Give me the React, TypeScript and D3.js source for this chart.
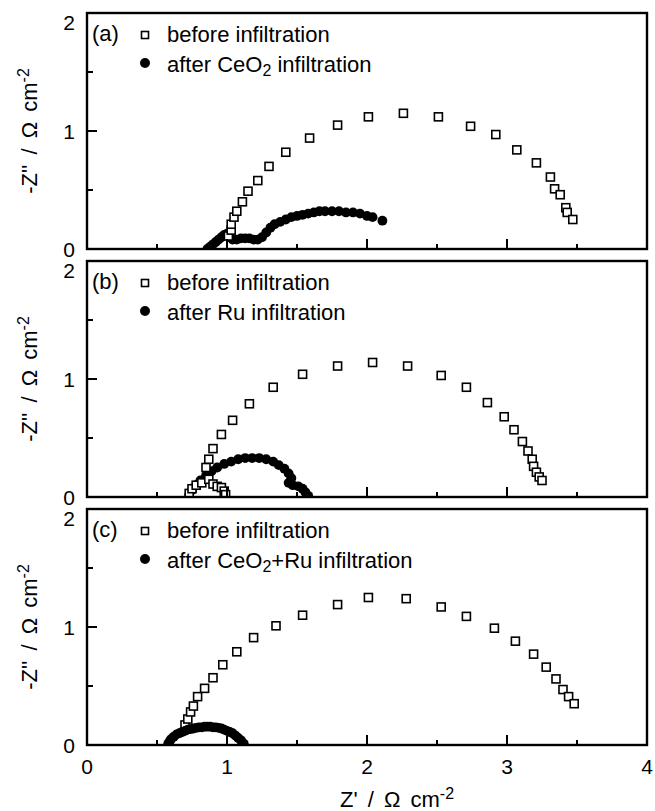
import React, { useEffect, useRef } from "react"
import * as d3 from "d3"

// Nyquist plots, Z' vs -Z'' (ohm cm^2)
const xTickLabels = ["0", "1", "2", "3", "4"]
const yTickLabels = ["0", "1", "2"]
const panelTags = ["(a)", "(b)", "(c)"]
const beforeLabel = "before infiltration"
const afterLabels = [
  ["after CeO", "2", " infiltration"],
  ["after Ru infiltration", "", ""],
  ["after CeO", "2", "+Ru infiltration"]
]

const beforeA = [
  [1.01, 0.11], [1.03, 0.16], [1.03, 0.21], [1.05, 0.27], [1.07, 0.32], [1.11, 0.40], [1.15, 0.49],
  [1.22, 0.58], [1.30, 0.70], [1.42, 0.82], [1.59, 0.94], [1.79, 1.05], [2.01, 1.12], [2.26, 1.15],
  [2.51, 1.12], [2.74, 1.04], [2.92, 0.97], [3.07, 0.84], [3.21, 0.73], [3.31, 0.61], [3.34, 0.51],
  [3.38, 0.46], [3.42, 0.35], [3.43, 0.31], [3.47, 0.25]
]
const afterA = [
  [0.86, 0.00], [0.88, 0.02], [0.90, 0.04], [0.92, 0.06], [0.94, 0.08], [0.96, 0.10], [0.98, 0.12],
  [1.00, 0.13], [1.02, 0.10], [1.04, 0.08], [1.07, 0.08], [1.10, 0.09], [1.13, 0.09], [1.16, 0.09],
  [1.19, 0.08], [1.22, 0.08], [1.25, 0.10], [1.28, 0.14], [1.31, 0.18], [1.34, 0.21], [1.38, 0.23],
  [1.42, 0.25], [1.46, 0.27], [1.50, 0.28], [1.54, 0.29], [1.58, 0.30], [1.62, 0.31], [1.66, 0.32],
  [1.70, 0.32], [1.75, 0.32], [1.80, 0.32], [1.85, 0.31], [1.90, 0.31], [1.95, 0.30], [2.00, 0.28],
  [2.04, 0.27], [2.11, 0.24]
]

const beforeB = [
  [0.73, 0.03], [0.75, 0.07], [0.78, 0.10], [0.82, 0.12], [0.87, 0.15], [0.90, 0.11], [0.93, 0.09],
  [0.96, 0.08], [0.98, 0.05], [0.99, 0.02], [0.85, 0.25], [0.87, 0.32], [0.90, 0.41], [0.96, 0.53],
  [1.04, 0.65], [1.16, 0.79], [1.33, 0.93], [1.54, 1.04], [1.79, 1.11], [2.04, 1.14], [2.29, 1.11],
  [2.53, 1.03], [2.71, 0.93], [2.86, 0.80], [2.98, 0.68], [3.05, 0.57], [3.11, 0.47], [3.15, 0.39],
  [3.18, 0.32], [3.19, 0.26], [3.21, 0.21], [3.23, 0.17], [3.25, 0.14]
]
const afterB = [
  [0.73, 0.02], [0.75, 0.06], [0.78, 0.10], [0.81, 0.14], [0.85, 0.18], [0.89, 0.22], [0.93, 0.25],
  [0.98, 0.28], [1.03, 0.30], [1.08, 0.32], [1.13, 0.33], [1.18, 0.33], [1.23, 0.33], [1.28, 0.32],
  [1.33, 0.30], [1.37, 0.27], [1.41, 0.24], [1.44, 0.20], [1.46, 0.16], [1.44, 0.12], [1.47, 0.10],
  [1.51, 0.09], [1.54, 0.07], [1.56, 0.04], [1.58, 0.01]
]

const beforeC = [
  [0.70, 0.17], [0.72, 0.22], [0.74, 0.28], [0.76, 0.33], [0.79, 0.41], [0.84, 0.48], [0.90, 0.57],
  [0.97, 0.68], [1.07, 0.79], [1.19, 0.91], [1.35, 1.01], [1.54, 1.10], [1.79, 1.19], [2.01, 1.25],
  [2.28, 1.24], [2.53, 1.17], [2.71, 1.09], [2.91, 0.99], [3.06, 0.88], [3.19, 0.77], [3.28, 0.66],
  [3.35, 0.56], [3.40, 0.47], [3.44, 0.41], [3.48, 0.35]
]
const afterC = [
  [0.58, 0.01], [0.59, 0.03], [0.60, 0.05], [0.62, 0.07], [0.64, 0.09], [0.66, 0.10], [0.68, 0.11],
  [0.70, 0.12], [0.72, 0.13], [0.74, 0.135], [0.76, 0.14], [0.78, 0.145], [0.80, 0.15], [0.82, 0.15],
  [0.84, 0.155], [0.86, 0.155], [0.88, 0.155], [0.90, 0.15], [0.92, 0.15], [0.94, 0.145], [0.96, 0.14],
  [0.98, 0.13], [1.00, 0.12], [1.02, 0.11], [1.04, 0.10], [1.06, 0.08], [1.08, 0.06], [1.10, 0.04],
  [1.11, 0.02], [1.12, 0.01]
]

const panels = [
  { before: beforeA, after: afterA, squaresOnTop: true },
  { before: beforeB, after: afterB, squaresOnTop: true },
  { before: beforeC, after: afterC, squaresOnTop: false }
]

const font = "'Liberation Sans', Arial, sans-serif"

export default function App() {
  const ref = useRef<SVGSVGElement>(null)

  useEffect(() => {
    const svg = d3.select(ref.current)
    svg.selectAll("*").remove()

    const left = 87, right = 647, panelH = 236
    const x = d3.scaleLinear().domain([0, 4]).range([left, right])

    panels.forEach((p, i) => {
      const top = 13 + i * 248
      const y = d3.scaleLinear().domain([0, 2]).range([top + panelH, top])
      const g = svg.append("g")

      g.append("clipPath").attr("id", "clip" + i)
        .append("rect").attr("x", left).attr("y", top).attr("width", right - left).attr("height", panelH)

      const plot = g.append("g").attr("clip-path", "url(#clip" + i + ")")

      const drawSquares = () => {
        plot.selectAll("rect.sq").data(p.before).enter().append("rect")
          .attr("class", "sq")
          .attr("x", d => x(d[0]) - 4).attr("y", d => y(d[1]) - 4)
          .attr("width", 8).attr("height", 8)
          .attr("fill", "#fff").attr("stroke", "#000").attr("stroke-width", 1.6)
      }
      const drawCircles = () => {
        plot.selectAll("circle.ci").data(p.after).enter().append("circle")
          .attr("class", "ci")
          .attr("cx", d => x(d[0])).attr("cy", d => y(d[1]))
          .attr("r", 4.9).attr("fill", "#000")
      }
      if (p.squaresOnTop) { drawCircles(); drawSquares() } else { drawSquares(); drawCircles() }

      // inward ticks
      x.ticks(8).forEach(t => {
        const len = Number.isInteger(t) ? 10 : 5
        g.append("line").attr("x1", x(t)).attr("x2", x(t))
          .attr("y1", top + panelH).attr("y2", top + panelH - len)
          .attr("stroke", "#000").attr("stroke-width", 2)
      })
      y.ticks(4).forEach(t => {
        const len = Number.isInteger(t) ? 10 : 6
        g.append("line").attr("x1", left).attr("x2", left + len)
          .attr("y1", y(t)).attr("y2", y(t))
          .attr("stroke", "#000").attr("stroke-width", 2)
      })

      g.append("rect").attr("x", left).attr("y", top).attr("width", right - left).attr("height", panelH)
        .attr("fill", "none").attr("stroke", "#000").attr("stroke-width", 2.4)

      // y tick labels, top one pushed down a bit like the original
      yTickLabels.forEach((lab, k) => {
        g.append("text").attr("x", 75).attr("y", y(+lab) + (k === 2 ? 9 : 0)).attr("dy", "0.36em")
          .attr("text-anchor", "end").attr("font-family", font).attr("font-size", 21).text(lab)
      })

      // y title
      const yt = g.append("text")
        .attr("transform", "translate(37," + (top + panelH / 2) + ") rotate(-90)")
        .attr("text-anchor", "middle").attr("font-family", font).attr("font-size", 22)
        .attr("word-spacing", 4)
      yt.append("tspan").text("-Z'' / Ω cm")
      yt.append("tspan").attr("font-size", 16).attr("dy", -8).text("-2")

      // legend
      g.append("text").attr("x", 92).attr("y", top + 28).attr("font-family", font).attr("font-size", 22).text(panelTags[i])
      g.append("rect").attr("x", 141.5).attr("y", top + 18.5).attr("width", 7).attr("height", 7)
        .attr("fill", "#fff").attr("stroke", "#000").attr("stroke-width", 1.6)
      g.append("circle").attr("cx", 145).attr("cy", top + 50).attr("r", 5).attr("fill", "#000")
      g.append("text").attr("x", 167).attr("y", top + 29).attr("font-family", font).attr("font-size", 22).text(beforeLabel)
      const at = g.append("text").attr("x", 167).attr("y", top + 59).attr("font-family", font).attr("font-size", 22)
      const parts = afterLabels[i]
      at.append("tspan").text(parts[0])
      if (parts[1]) {
        at.append("tspan").attr("font-size", 16).attr("dy", 4).text(parts[1])
        at.append("tspan").attr("dy", -4).text(parts[2])
      }

      if (i === 2) {
        xTickLabels.forEach(lab => {
          g.append("text").attr("x", x(+lab)).attr("y", top + panelH + 29)
            .attr("text-anchor", "middle").attr("font-family", font).attr("font-size", 21).text(lab)
        })
        const xt = g.append("text").attr("x", x(2) + 30).attr("y", 807)
          .attr("text-anchor", "middle").attr("font-family", font).attr("font-size", 22)
          .attr("word-spacing", 4)
        xt.append("tspan").text("Z' / Ω cm")
        xt.append("tspan").attr("font-size", 16).attr("dy", -8).text("-2")
      }
    })
  }, [])

  return (
    <svg ref={ref} width={655} height={811}
      style={{ position: "absolute", left: 0, top: 0, background: "#fff" }} />
  )
}
